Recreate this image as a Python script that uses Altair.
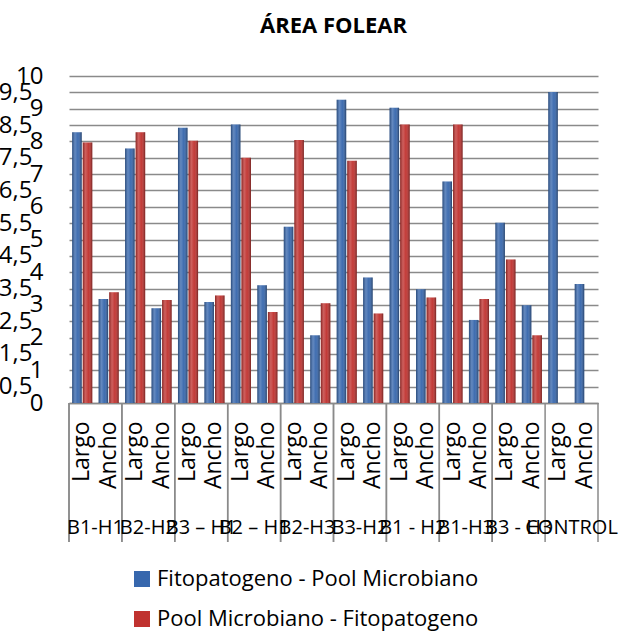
import altair as alt
import pandas as pd

# Treatments (outer x level) and measured dimension (inner x level)
groups = ["B1-H1", "B2-H2", "B3 – H1", "B2 – H1", "B2-H3", "B3-H2",
          "B1 - H2", "B1-H3", "B3 - H3", "CONTROL"]
subcats = ["Largo", "Ancho"]
series = ["Fitopatogeno - Pool Microbiano", "Pool Microbiano - Fitopatogeno"]

# Fitopatogeno - Pool Microbiano
fito_largo = [8.28, 7.78, 8.42, 8.52, 5.39, 9.27, 9.03, 6.77, 5.51, 9.51]
fito_ancho = [3.18, 2.90, 3.09, 3.60, 2.07, 3.84, 3.48, 2.54, 2.99, 3.64]
# Pool Microbiano - Fitopatogeno (no value for CONTROL)
pool_largo = [7.97, 8.28, 8.02, 7.50, 8.04, 7.41, 8.52, 8.52, 4.39]
pool_ancho = [3.39, 3.15, 3.29, 2.78, 3.05, 2.74, 3.23, 3.18, 2.07]

y_ticks = [i / 2 for i in range(0, 21)]

rows = []
for gi, g in enumerate(groups):
    cells = [(series[0], "Largo", fito_largo[gi]), (series[0], "Ancho", fito_ancho[gi])]
    if gi < len(pool_largo):
        cells += [(series[1], "Largo", pool_largo[gi]), (series[1], "Ancho", pool_ancho[gi])]
    for s, sub, v in cells:
        rows.append({"group": g, "sub": sub, "series": s, "value": v, "cat": f"{g}|{sub}"})
df = pd.DataFrame(rows)
cat_order = [f"{g}|{s}" for g in groups for s in subcats]

grid_gray = "#8a8a8a"
blue, red = "#3767ad", "#c0322f"
FONT = "Open Sans"

x_enc = alt.X(
    "cat:N", sort=cat_order,
    scale=alt.Scale(paddingInner=0, paddingOuter=0),
    axis=alt.Axis(
        title=None, labelExpr="split(datum.value, '|')[1]", labelAngle=270,
        ticks=False, labelPadding=18, labelFontSize=23, labelFont=FONT,
        labelColor="black", domainColor=grid_gray, domainWidth=1.5, grid=False,
        labelOverlap=False,
    ),
)
y_enc = alt.Y(
    "value:Q",
    scale=alt.Scale(domain=[0, 10], nice=False, zero=True),
    axis=alt.Axis(
        title=None, values=y_ticks, grid=True, gridColor=grid_gray, gridWidth=1.5,
        domain=False, ticks=False, labelFontSize=24, labelFont=FONT, labelColor="black",
        labelOverlap=False,
        labelExpr="replace(toString(datum.value), '.', ',')",
        labelPadding={"condition": {"test": "datum.value % 1 !== 0", "value": 37}, "value": 26},
    ),
)
xoff_enc = alt.XOffset(
    "series:N", sort=series,
    scale=alt.Scale(paddingInner=0.1, paddingOuter=0.3),
)
color_enc = alt.Color(
    "series:N", sort=series,
    scale=alt.Scale(domain=series, range=[blue, red]),
    legend=alt.Legend(
        title=None, orient="none", legendX=62, legendY=492, direction="vertical",
        symbolType="square", symbolSize=256, symbolStrokeWidth=0,
        labelFontSize=22, labelFont=FONT, labelColor="black", labelLimit=600,
        rowPadding=18, padding=0, labelOffset=4,
    ),
)

bars = alt.Chart(df).mark_bar().encode(x=x_enc, y=y_enc, xOffset=xoff_enc, color=color_enc)

# Cylinder-like shading laid over every bar
sheen = alt.Chart(df).mark_bar(
    color=alt.Gradient(
        gradient="linear", x1=0, x2=1, y1=0, y2=0,
        stops=[
            alt.GradientStop(color="rgba(0,0,0,0.30)", offset=0),
            alt.GradientStop(color="rgba(255,255,255,0.22)", offset=0.3),
            alt.GradientStop(color="rgba(255,255,255,0.04)", offset=0.6),
            alt.GradientStop(color="rgba(0,0,0,0.40)", offset=1),
        ],
    )
).encode(x=x_enc, y=y_enc, xOffset=xoff_enc)

largo_rows = alt.datum.sub == "Largo"
ancho_rows = alt.datum.sub == "Ancho"

# Dividers between treatment groups, running through the category labels
div_left = alt.Chart(df).transform_filter(largo_rows).mark_rule(
    color=grid_gray, strokeWidth=1.5
).encode(
    x=alt.X("cat:N", sort=cat_order, bandPosition=0),
    y=alt.value(327), y2=alt.value(466),
)
div_right = alt.Chart(df).transform_filter(
    (alt.datum.group == groups[-1]) & ancho_rows
).mark_rule(color=grid_gray, strokeWidth=1.5).encode(
    x=alt.X("cat:N", sort=cat_order, bandPosition=1),
    y=alt.value(327), y2=alt.value(466),
)

group_labels = alt.Chart(df).transform_filter(
    largo_rows & (alt.datum.series == series[0])
).mark_text(fontSize=20, font=FONT, color="black", align="center", baseline="middle").encode(
    x=alt.X("cat:N", sort=cat_order, bandPosition=1),
    y=alt.value(452),
    text="group:N",
)

chart = alt.layer(bars, sheen, div_left, div_right, group_labels).properties(
    width=529, height=327,
    autosize=alt.AutoSizeParams(type="none"),
    padding={"left": 69, "top": 76, "right": 24, "bottom": 235},
    title=alt.TitleParams("ÁREA FOLEAR", font=FONT, fontSize=22, fontWeight="bold",
                          color="black", offset=26),
).configure_view(stroke=None)

chart.save("out.html", embed_options={"renderer": "svg", "actions": False})
